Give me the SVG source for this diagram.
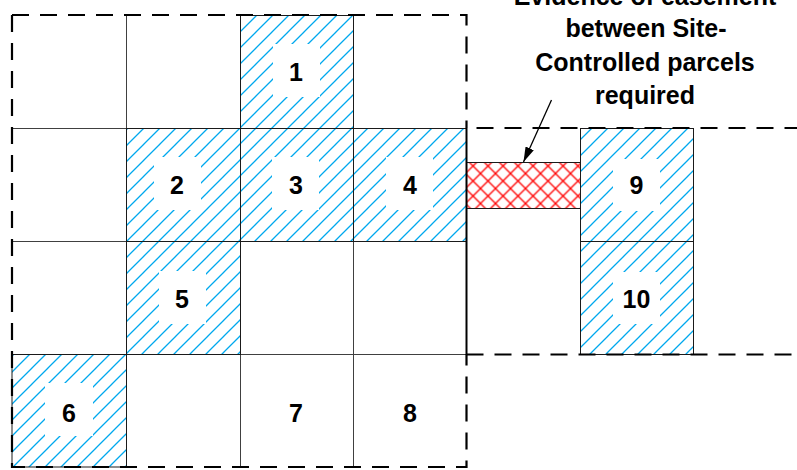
<svg xmlns="http://www.w3.org/2000/svg" width="797" height="470" viewBox="0 0 797 470">
<style>
.grid{fill:none;stroke:#404040;stroke-width:1}
.cell{stroke:#1a1a1a;stroke-width:1}
.hatched{fill:url(#hatch)}
.hole{fill:#fff}
.dash{fill:none;stroke:#000;stroke-width:2.2;stroke-dasharray:17 11}
.solid{fill:none;stroke:#000;stroke-width:2}
.num{font-family:"Liberation Sans",Arial,sans-serif;font-weight:bold;font-size:25px;fill:#000;text-anchor:middle}
.lbl{font-family:"Liberation Sans",Arial,sans-serif;font-weight:bold;font-size:25px;fill:#000;text-anchor:middle}
.arrow{fill:none;stroke:#000;stroke-width:1.3}
</style>
<defs>
<pattern id="hatch" patternUnits="userSpaceOnUse" width="16" height="16">
<path d="M-4,4 L4,-4 M0,16 L16,0 M12,20 L20,12" stroke="#00A8EE" stroke-width="1.3"/>
</pattern>
<pattern id="cross" patternUnits="userSpaceOnUse" x="465.5" y="158.5" width="15" height="15">
<path d="M0,0 L15,15 M15,0 L0,15" stroke="#FF0000" stroke-width="1.3"/>
</pattern>
<marker id="ah" viewBox="0 0 15 9" markerWidth="15" markerHeight="9" refX="15" refY="4.5" orient="auto" markerUnits="userSpaceOnUse">
<path d="M0,0 L15,4.5 L0,9 Z" fill="#000"/>
</marker>
</defs>
<rect width="797" height="470" fill="#fff"/>

<g id="grid">
<path class="grid" d="M12,128.5 H466.5 M12,241.5 H466.5 M12,354.5 H466.5 M126.5,15 V467 M240.5,15 V467 M353.5,15 V467"/>
</g>

<g id="parcel-1">
<rect class="cell hatched" x="240.5" y="15.5" width="113" height="113"/>
<rect class="hole" x="273" y="44" width="47" height="53"/>
<text class="num" x="296" y="81">1</text>
</g>
<g id="parcel-2">
<rect class="cell hatched" x="126.5" y="128.5" width="114" height="113"/>
<rect class="hole" x="154" y="157" width="47" height="53"/>
<text class="num" x="177" y="194">2</text>
</g>
<g id="parcel-3">
<rect class="cell hatched" x="240.5" y="128.5" width="113" height="113"/>
<rect class="hole" x="272" y="157" width="47" height="53"/>
<text class="num" x="296" y="194">3</text>
</g>
<g id="parcel-4">
<rect class="cell hatched" x="353.5" y="128.5" width="113" height="113"/>
<rect class="hole" x="386" y="157" width="47" height="53"/>
<text class="num" x="410" y="194">4</text>
</g>
<g id="parcel-5">
<rect class="cell hatched" x="126.5" y="241.5" width="114" height="113"/>
<rect class="hole" x="159" y="271" width="47" height="53"/>
<text class="num" x="182" y="308">5</text>
</g>
<g id="parcel-6">
<rect class="cell hatched" x="12" y="354.5" width="114.5" height="112.5"/>
<rect class="hole" x="45" y="383" width="48" height="53"/>
<text class="num" x="69" y="422">6</text>
</g>
<g id="parcel-7">
<text class="num" x="296" y="422">7</text>
</g>
<g id="parcel-8">
<text class="num" x="410" y="422">8</text>
</g>
<g id="parcel-9">
<rect class="cell hatched" x="580.5" y="128.5" width="113" height="113"/>
<rect class="hole" x="613" y="159" width="47" height="52"/>
<text class="num" x="636.5" y="194">9</text>
</g>
<g id="parcel-10">
<rect class="cell hatched" x="580.5" y="241.5" width="113" height="113"/>
<rect class="hole" x="613" y="272" width="47" height="52"/>
<text class="num" x="636.5" y="308">10</text>
</g>
<g id="easement">
<rect class="cell" x="466.5" y="162.5" width="114" height="46" fill="url(#cross)"/>
</g>

<g id="boundaries">
<path class="dash" d="M12,15 H466.5 V128"/>
<path class="dash" d="M12,15 V467 H466.5 V354"/>
<path class="solid" d="M466.5,128 V354.5"/>
<path class="dash" style="stroke-dashoffset:18" d="M466.5,128 H797"/>
<path class="dash" d="M466.5,354.5 H797"/>
</g>

<g id="label">
<text class="lbl" x="645" y="5">Evidence of easement</text>
<text class="lbl" x="646" y="36.5">between Site-</text>
<text class="lbl" x="645" y="70.5">Controlled parcels</text>
<text class="lbl" x="645" y="104">required</text>
</g>

<g id="connectors">
<path class="arrow" d="M551.5,100 L523.5,162" marker-end="url(#ah)"/>
</g>
</svg>
